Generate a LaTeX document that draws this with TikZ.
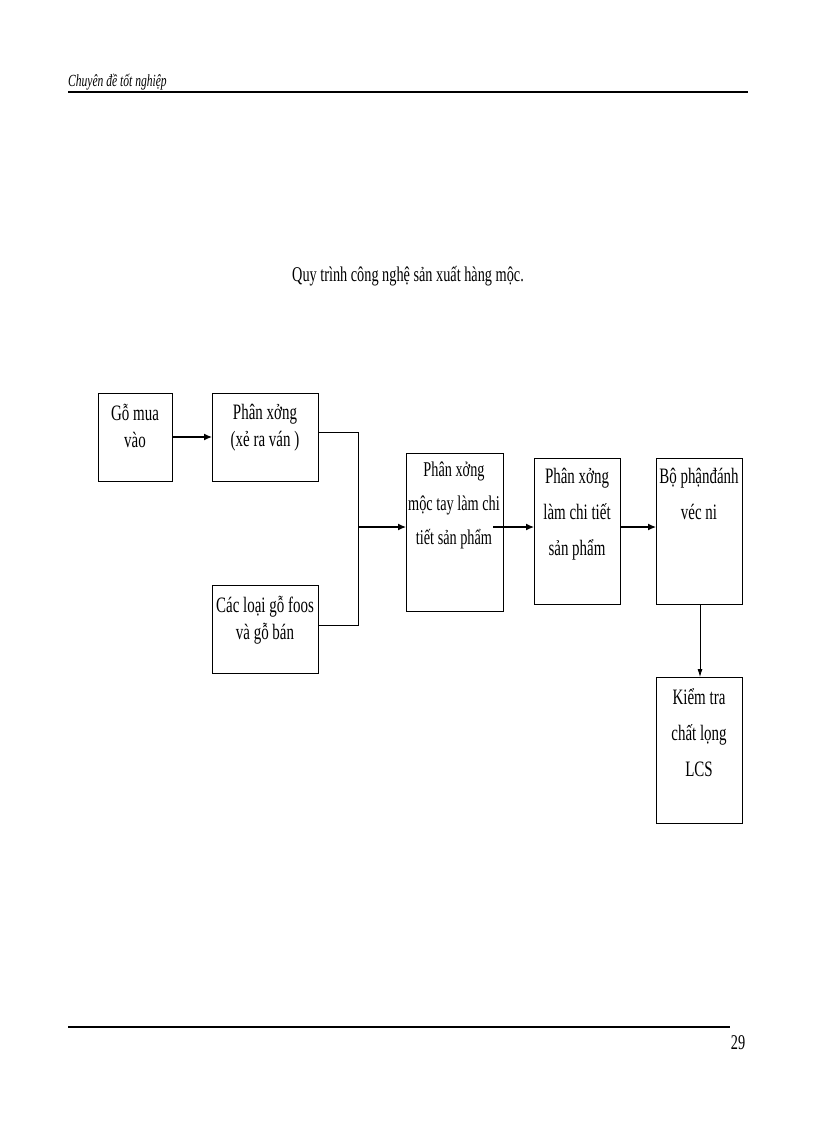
\documentclass[tikz,border=0pt]{standalone}
\usepackage{fontspec}
\setmainfont{Liberation Serif}[FakeStretch=0.68]
\usetikzlibrary{arrows.meta}
\begin{document}
\begin{tikzpicture}[x=1pt,y=-1pt,
  box/.style={draw,line width=1pt},
  lbl/.style={anchor=north,align=center,inner sep=0,font=\fontsize{22}{27}\selectfont},
  arr/.style={line width=1.2pt,-{Latex[length=8pt,width=7pt]}}]
\useasboundingbox (0,0) rectangle (816,1123);
\fill[white] (0,0) rectangle (816,1123);
\node[anchor=south west,inner sep=0,font=\itshape\fontsize{17}{18}\selectfont] (hdr) at (68,90) {Chuyên đề tốt nghiệp};
\draw[line width=2.5pt] (68,92) -- (748,92);
\node[font=\fontsize{21}{22}\selectfont] (title) at (408,276) {Quy trình công nghệ sản xuất hàng mộc.};
\draw[box] (98,393) rectangle (172,481); \node[lbl] (a) at (135,404) {Gỗ mua\\vào};
\draw[box] (212,393) rectangle (318,481); \node[lbl] (b) at (265,404) {Phân xởng\\(xẻ ra ván )};
\draw[box] (212,585) rectangle (318,673); \node[lbl] (c) at (265,596) {Các loại gỗ foos\\và gỗ bán};
\draw[box] (406,453) rectangle (503,611); \node[lbl,font=\fontsize{21}{34}\selectfont] (d) at (454,462) {Phân xởng\\mộc tay làm chi\\tiết sản phẩm};
\draw[box] (534,458) rectangle (620,604); \node[lbl,font=\fontsize{22}{36}\selectfont] (e) at (577,468) {Phân xởng\\làm chi tiết\\sản phẩm};
\draw[box] (656,458) rectangle (742,604); \node[lbl,font=\fontsize{22}{36}\selectfont] (f) at (699,468) {Bộ phậnđánh\\véc ni};
\draw[box] (656,677) rectangle (742,823); \node[lbl,font=\fontsize{22}{36}\selectfont] (g) at (699,688) {Kiểm tra\\chất lọng\\LCS};
\draw[arr] (172,437) -- (212,437);
\draw[line width=1pt] (318,432) -- (358,432) -- (358,625) -- (318,625);
\draw[arr] (358,527) -- (406,527);
\draw[arr] (493,527) -- (534,527);
\draw[arr] (620,527) -- (656,527);
\draw[line width=0.8pt,-{Latex[length=8pt,width=5pt]}] (700,604) -- (700,677);
\draw[line width=2.5pt] (68,1027) -- (730,1027);
\node[font=\fontsize{21}{22}\selectfont] (pg) at (738,1043) {29};
\end{tikzpicture}
\end{document}
